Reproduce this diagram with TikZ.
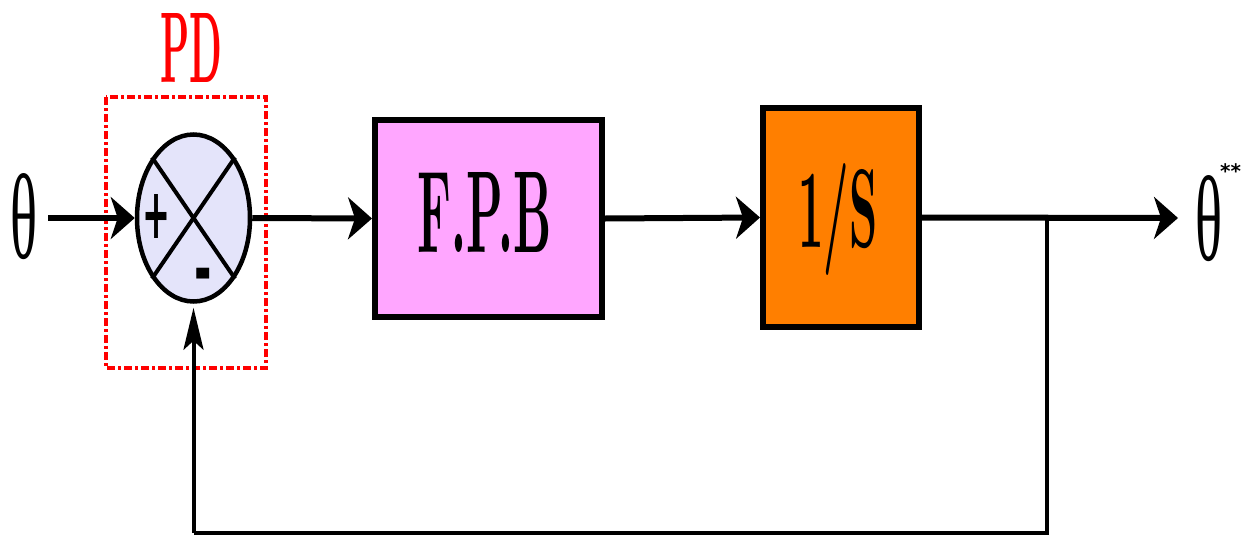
\documentclass[tikz,border=0pt]{standalone}
\usepackage{fontspec}
\newfontfamily\thetafont{Liberation Serif}
\newfontfamily\signfont{DejaVu Sans}
\usetikzlibrary{arrows.meta,shapes.geometric}
\definecolor{sumfill}{RGB}{228,228,250}
\definecolor{fpbfill}{RGB}{255,166,255}
\definecolor{intfill}{RGB}{255,127,0}
\definecolor{pdred}{RGB}{255,0,0}
\tikzset{
  sig/.style={line width=6pt,-{Stealth[length=24pt,width=42pt,inset=7pt]}},
  fbline/.style={line width=4pt},
  fbarrow/.style={line width=4pt,-{Stealth[length=42pt,width=20pt,inset=9pt]}},
  blockbox/.style={draw=black,line width=6pt,rectangle,inner sep=0pt},
  pdbox/.style={draw=pdred,line width=3.5pt,dash pattern=on 8pt off 3pt on 3pt off 3pt},
}
\begin{document}
\begin{tikzpicture}[x=1pt,y=-1pt]
\useasboundingbox (0,0) rectangle (1241,538);
% PD frame
\draw[pdbox] (106,97) rectangle (266,368);
\node[anchor=base,inner sep=0pt,text=pdred] (pd) at (191,82) {\bfseries\resizebox{62pt}{69pt}{PD}};
% summing junction
\node[ellipse,draw=black,line width=4.5pt,fill=sumfill,minimum width=113pt,minimum height=167pt,inner sep=0pt] (sum) at (193.5,218) {};
\draw[line width=4pt] (sum.north west) -- (sum.south east);
\draw[line width=4pt] (sum.north east) -- (sum.south west);
\node[inner sep=0pt] (plus) at (156,216) {\signfont\bfseries\resizebox{28pt}{44pt}{+}};
\node[inner sep=0pt,anchor=base] (minus) at (203,295) {\signfont\bfseries\fontsize{40}{40}\selectfont\scalebox{1.05}[1.9]{-}};
% input theta
\node[anchor=base west,inner sep=0pt] (thetaIn) at (10,258) {\thetafont\resizebox{27pt}{85pt}{θ}};
% blocks
\node[blockbox,fill=fpbfill,minimum width=227pt,minimum height=197pt] (fpb) at (488.5,218.5) {};
\node[anchor=base,inner sep=0pt] (fpbtext) at (485,252) {\bfseries\resizebox{134pt}{80pt}{F.P.B}};
\node[blockbox,fill=intfill,minimum width=156pt,minimum height=219pt] (integ) at (841,217.5) {};
\node[anchor=base,inner sep=0pt] (integtext) at (838,247) {\bfseries\resizebox{79pt}{84pt}{1/S}};
% output theta
\node[anchor=base west,inner sep=0pt] (thetaOut) at (1195,260) {\thetafont\resizebox{27pt}{85pt}{θ}};
\node[anchor=base west,inner sep=0pt] (stars) at (1220,178) {\signfont\bfseries\fontsize{20}{20}\selectfont **};
% coordinates
\coordinate (inStart) at (48,218);
\coordinate (outTip) at (1178,218);
\coordinate (branch) at (1047,218);
\coordinate (fbR) at (1047,533);
\coordinate (fbL) at (193.5,533);
% connectors
\draw[sig] (inStart) -- (sum.west);
\draw[sig] (sum.east) -- (fpb.west);
\draw[sig] (fpb.east) -- (integ.west);
\draw[sig] (integ.east) -- (outTip);
\draw[fbline] (branch) -- (fbR) -- (fbL);
\draw[fbarrow,shorten >=4pt] (fbL) -- (sum.south);
\end{tikzpicture}
\end{document}
